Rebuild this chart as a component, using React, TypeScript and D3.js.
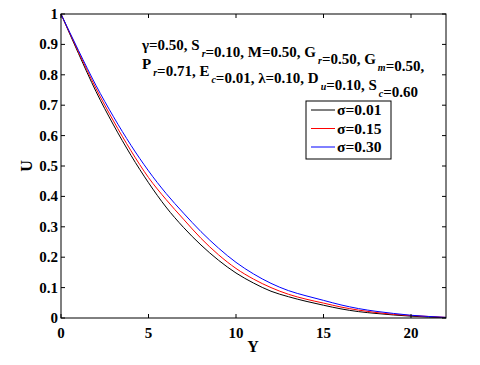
import React from "react";
import * as d3 from "d3";

const yPositions = [0,1,2,3,4,5,6,7,8,9,10,11,12,13,14,15,16,17,18,19,20,21,22];
const uSigma001 = [1.0,0.87,0.745,0.635,0.535,0.445,0.365,0.298,0.24,0.19,0.148,0.115,0.088,0.07,0.055,0.042,0.03,0.021,0.015,0.01,0.006,0.003,0.001];
const uSigma015 = [1.0,0.875,0.755,0.648,0.55,0.462,0.39,0.325,0.262,0.208,0.163,0.128,0.1,0.078,0.062,0.049,0.036,0.026,0.018,0.012,0.008,0.005,0.002];
const uSigma030 = [1.0,0.88,0.765,0.662,0.568,0.484,0.41,0.345,0.284,0.23,0.183,0.145,0.114,0.09,0.073,0.058,0.043,0.031,0.022,0.015,0.009,0.005,0.002];
const seriesLabels = ["σ=0.01","σ=0.15","σ=0.30"];
const seriesColors = ["#000000","#ff0000","#0000ff"];
const xTicks = [0,5,10,15,20];
const yTicks = [0,0.1,0.2,0.3,0.4,0.5,0.6,0.7,0.8,0.9,1];

const W = 480, H = 365;
const L = 61, R = 446, T = 14, B = 318;
const FONT = "'Liberation Serif', 'Times New Roman', serif";

export default function App() {
  const x = d3.scaleLinear().domain([0, 22]).range([L, R]);
  const y = d3.scaleLinear().domain([0, 1]).range([B, T]);
  const line = d3.line<number>()
    .x((_, i) => x(yPositions[i]))
    .y((d) => y(d))
    .curve(d3.curveMonotoneX);
  const allSeries = [uSigma001, uSigma015, uSigma030];
  const tk = 4;
  const fmtY = (v: number) => (v === 0 ? "0" : v === 1 ? "1" : v.toFixed(1));
  const sub = (t: string) => (
    <tspan fontStyle="italic" fontWeight="bold" fontSize={10} dy={7} dx={2}>{t}</tspan>
  );
  const back = <tspan dy={-7} dx={2}></tspan>;

  return (
    <svg width={W} height={H} style={{ position: "absolute", left: 0, top: 0, background: "#fff" }}>
      <rect x={0} y={0} width={W} height={H} fill="#fff" />
      {allSeries.map((s, i) => (
        <path key={i} d={line(s) || ""} fill="none" stroke={seriesColors[i]} strokeWidth={1} />
      ))}
      <rect x={L} y={T} width={R - L} height={B - T} fill="none" stroke="#000" strokeWidth={1} />
      {xTicks.map((t) => (
        <g key={"x" + t}>
          <line x1={x(t)} x2={x(t)} y1={B} y2={B - tk} stroke="#000" />
          <line x1={x(t)} x2={x(t)} y1={T} y2={T + tk} stroke="#000" />
          <text x={x(t)} y={B + 20} textAnchor="middle" fontFamily={FONT} fontWeight="bold" fontSize={15}>{t}</text>
        </g>
      ))}
      {yTicks.map((t) => (
        <g key={"y" + t}>
          <line x1={L} x2={L + tk} y1={y(t)} y2={y(t)} stroke="#000" />
          <line x1={R} x2={R - tk} y1={y(t)} y2={y(t)} stroke="#000" />
          <text x={L - 3} y={y(t) + 5} textAnchor="end" fontFamily={FONT} fontWeight="bold" fontSize={15}>{fmtY(t)}</text>
        </g>
      ))}
      <text x={253} y={352} textAnchor="middle" fontFamily={FONT} fontWeight="bold" fontSize={16}>Y</text>
      <text transform={`translate(32,166) rotate(-90)`} textAnchor="middle" fontFamily={FONT} fontWeight="bold" fontSize={16}>U</text>

      <text x={142} y={50} fontFamily={FONT} fontWeight="bold" fontSize={15}>
        γ=0.50, S{sub("r")}{back}=0.10, M=0.50, G{sub("r")}{back}=0.50, G{sub("m")}{back}=0.50,
      </text>
      <text x={142} y={69} fontFamily={FONT} fontWeight="bold" fontSize={15}>
        P{sub("r")}{back}=0.71, E{sub("c")}{back}=0.01, λ=0.10, D{sub("u")}{back}=0.10, S{sub("c")}{back}=0.60
      </text>

      <rect x={306} y={101} width={85} height={58} fill="#fff" stroke="#000" strokeWidth={1} />
      {seriesLabels.map((lab, i) => {
        const cy = 110 + i * 18.5;
        return (
          <g key={lab}>
            <line x1={311} x2={335} y1={cy} y2={cy} stroke={seriesColors[i]} strokeWidth={1} />
            <text x={337} y={cy + 5} fontFamily={FONT} fontWeight="bold" fontSize={15.5}>{lab}</text>
          </g>
        );
      })}
    </svg>
  );
}
